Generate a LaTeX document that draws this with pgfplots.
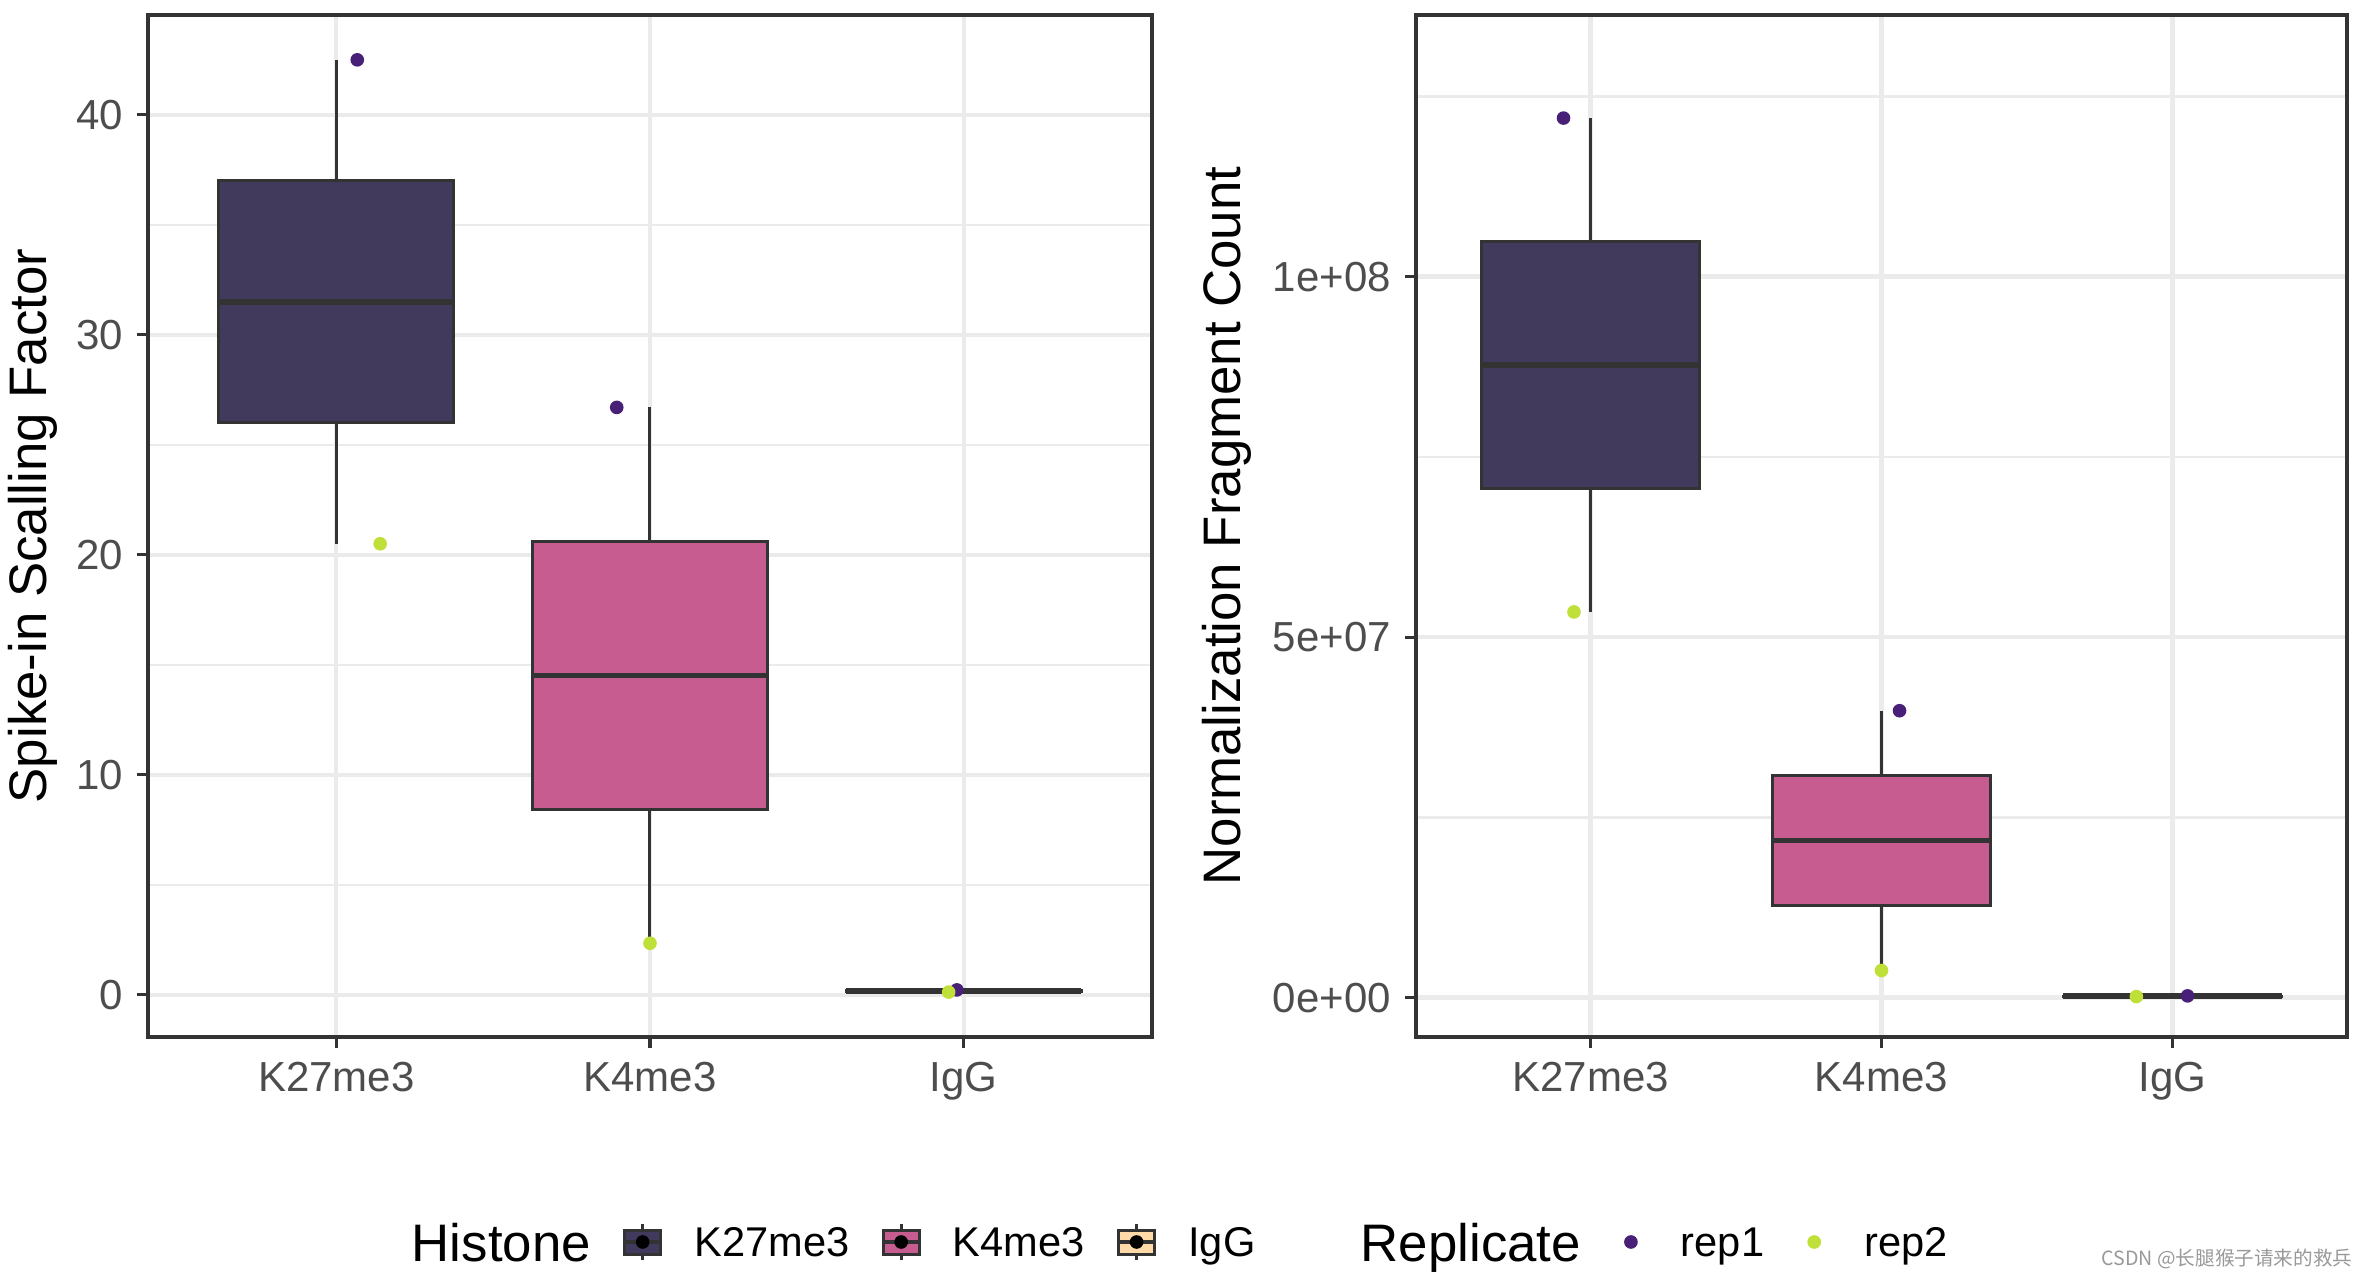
\documentclass[border=0pt]{standalone}
\usepackage{fontspec}
\setmainfont{Liberation Sans}
\newfontfamily\cjk{Noto Sans CJK SC}
\usepackage{pgfplots}
\pgfplotsset{compat=1.18}
\usepgfplotslibrary{statistics}
\definecolor{k27}{RGB}{65,58,92}
\definecolor{k4}{RGB}{198,92,143}
\definecolor{igg}{RGB}{253,218,168}
\definecolor{boxline}{RGB}{51,51,51}
\definecolor{rep1}{RGB}{72,32,120}
\definecolor{rep2}{RGB}{190,224,56}
\definecolor{gridgrey}{RGB}{235,235,235}
\definecolor{grey20}{RGB}{51,51,51}
\definecolor{grey30}{RGB}{77,77,77}
\pgfplotsset{
  panel/.style={
    scale only axis, height=255.5pt,
    xmin=0.4, xmax=3.6,
    xtick={1,2,3}, xticklabels={K27me3,K4me3,IgG},
    xmajorgrids, ymajorgrids, yminorgrids,
    major grid style={gridgrey, line width=1.1pt},
    minor grid style={gridgrey, line width=0.55pt},
    axis line style={grey20, line width=0.8pt},
    tick style={grey20, line width=0.8pt},
    tick align=outside, tick pos=left,
    major tick length=2.75pt, minor tick length=0pt,
    ticklabel style={font=\fontsize{10.5}{12}\selectfont, text=grey30},
    /pgf/number format/assume math mode=true,
    label style={font=\fontsize{13.2}{15}\selectfont},
    legend style={draw=none, fill=none, inner sep=0pt, legend columns=-1,
      nodes={inner sep=0pt, text depth=0pt}, cells={anchor=west},
      font=\fontsize{10.4}{12}\selectfont,
      /tikz/every odd column/.append style={column sep=8pt},
      /tikz/every even column/.append style={column sep=8pt}},
  },
  bx/.style={boxplot/draw direction=y, boxplot/box extend=0.75, boxplot/whisker extend=0,
    boxplot/every median/.style={line width=1.4pt},
    draw=boxline, line width=0.75pt, solid, forget plot},
  histkey/.style={legend image code/.code={
    \draw[boxline, line width=0.75pt] (4.5pt,-4.6pt) -- (4.5pt,4.6pt);
    \draw[boxline, fill=#1, line width=0.75pt] (0pt,-3pt) rectangle (9pt,3pt);
    \draw[boxline, line width=0.9pt] (0pt,0pt) -- (9pt,0pt);
    \fill[black] (4.5pt,0pt) circle (1.5pt);}},
  repkey/.style={legend image code/.code={
    \path[draw=none, fill=none] (0pt,-3pt) rectangle (9pt,3pt);
    \fill[#1] (4.5pt,0pt) circle (1.5pt);}},
  nokey/.style={legend image code/.code={}},
}
\begin{document}
\begin{tikzpicture}
\useasboundingbox (0,0) rectangle (592.5pt,320pt);
% ---------------- left panel ----------------
\begin{axis}[panel, width=251pt, at={(37pt,60.75pt)}, anchor=south west,
  ymin=-1.92, ymax=44.54,
  ytick={0,10,20,30,40}, minor ytick={5,15,25,35},
  ylabel={Spike-in Scalling Factor},
  ylabel style={at={(axis description cs:-0.1145,0.5)}, anchor=center},
  legend style={at={(axis description cs:0.2301,-0.2006)}, anchor=west}]
\addplot[bx, fill=k27, boxplot prepared={lower whisker=20.5, lower quartile=26.0,
  median=31.5, upper quartile=37.0, upper whisker=42.5, draw position=1}] coordinates {};
\addplot[bx, fill=k4, boxplot prepared={lower whisker=2.34, lower quartile=8.43,
  median=14.52, upper quartile=20.61, upper whisker=26.7, draw position=2}] coordinates {};
\addplot[bx, fill=igg, boxplot prepared={lower whisker=0.12, lower quartile=0.145,
  median=0.17, upper quartile=0.195, upper whisker=0.22, draw position=3}] coordinates {};
\addplot[forget plot, only marks, mark=*, mark size=1.5pt, color=rep1]
  coordinates {(1.067,42.5) (1.894,26.7) (2.978,0.22)};
\addplot[forget plot, only marks, mark=*, mark size=1.5pt, color=rep2]
  coordinates {(1.140,20.5) (2.000,2.34) (2.952,0.12)};
\addlegendimage{nokey}
\addlegendentry{\fontsize{13.2}{15}\selectfont Histone}
\addlegendimage{histkey=k27}
\addlegendentry{K27me3}
\addlegendimage{histkey=k4}
\addlegendentry{K4me3}
\addlegendimage{histkey=igg}
\addlegendentry{IgG}
\end{axis}
% ---------------- right panel (values in units of 1e7) ----------------
\begin{axis}[panel, width=232.75pt, at={(354pt,60.75pt)}, anchor=south west,
  ymin=-0.545, ymax=13.63,
  ytick={0,5,10}, yticklabels={0e+00,5e+07,1e+08},
  minor ytick={2.5,7.5,12.5},
  ylabel={Normalization Fragment Count},
  ylabel style={at={(axis description cs:-0.203,0.5)}, anchor=center},
  legend style={at={(axis description cs:-0.0945,-0.2006)}, anchor=west}]
\addplot[bx, fill=k27, boxplot prepared={lower whisker=5.35, lower quartile=7.0625,
  median=8.775, upper quartile=10.4875, upper whisker=12.2, draw position=1}] coordinates {};
\addplot[bx, fill=k4, boxplot prepared={lower whisker=0.377, lower quartile=1.278,
  median=2.1785, upper quartile=3.079, upper whisker=3.98, draw position=2}] coordinates {};
\addplot[bx, fill=igg, boxplot prepared={lower whisker=0.015, lower quartile=0.0175,
  median=0.02, upper quartile=0.0225, upper whisker=0.025, draw position=3}] coordinates {};
\addplot[forget plot, only marks, mark=*, mark size=1.5pt, color=rep1]
  coordinates {(0.907,12.2) (2.062,3.98) (3.052,0.025)};
\addplot[forget plot, only marks, mark=*, mark size=1.5pt, color=rep2]
  coordinates {(0.943,5.35) (2.000,0.377) (2.876,0.015)};
\addlegendimage{nokey}
\addlegendentry{\fontsize{13.2}{15}\selectfont Replicate}
\addlegendimage{repkey=rep1}
\addlegendentry{rep1}
\addlegendimage{repkey=rep2}
\addlegendentry{rep2}
\end{axis}
\node[anchor=east, text=black!40, font=\cjk\fontsize{4.9}{6}\selectfont, inner sep=0pt]
  at (588.25pt,5.25pt) {CSDN @长腿猴子请来的救兵};
\end{tikzpicture}
\end{document}
